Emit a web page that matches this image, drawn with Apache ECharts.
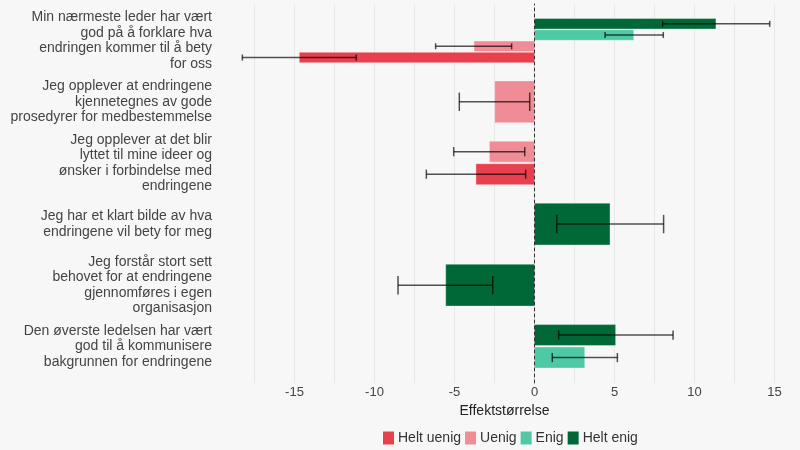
<!DOCTYPE html>
<html>
<head>
<meta charset="utf-8">
<script src="https://cdn.jsdelivr.net/npm/echarts@6/dist/echarts.min.js"></script>
<style>
  html, body { margin: 0; padding: 0; background: #f7f7f7; }
  #chart { width: 800px; height: 450px; }
</style>
</head>
<body>
<div id="chart"></div>
<script>
// statements, top to bottom
const categories = [
  'Min nærmeste leder har vært\ngod på å forklare hva\nendringen kommer til å bety\nfor oss',
  'Jeg opplever at endringene\nkjennetegnes av gode\nprosedyrer for medbestemmelse',
  'Jeg opplever at det blir\nlyttet til mine ideer og\nønsker i forbindelse med\nendringene',
  'Jeg har et klart bilde av hva\nendringene vil bety for meg',
  'Jeg forstår stort sett\nbehovet for at endringene\ngjennomføres i egen\norganisasjon',
  'Den øverste ledelsen har vært\ngod til å kommunisere\nbakgrunnen for endringene'
];

const seriesNames = ['Helt uenig', 'Uenig', 'Enig', 'Helt enig'];
const seriesColors = ['#E8404F', '#F08C96', '#4EC8A5', '#006837'];

// effect sizes + error bar ends (null = no bar)
const heltUenig   = [-14.70, null, -3.66, null, null, null];
const heltUenigLo = [-18.26, null, -6.76, null, null, null];
const heltUenigHi = [-11.14, null, -0.55, null, null, null];

const uenig   = [-3.78, -2.49, -2.82, null, null, null];
const uenigLo = [-6.18, -4.70, -5.05, null, null, null];
const uenigHi = [-1.43, -0.30, -0.61, null, null, null];

const enig   = [6.20, null, null, null, null, 3.14];
const enigLo = [4.41, null, null, null, null, 1.11];
const enigHi = [8.05, null, null, null, null, 5.18];

const heltEnig   = [11.34, null, null, 4.72, -5.55, 5.07];
const heltEnigLo = [8.01, null, null, 1.39, -8.53, 1.51];
const heltEnigHi = [14.70, null, null, 8.07, -2.61, 8.66];

const xTicks = [-15, -10, -5, 0, 5, 10, 15];

const values = [heltUenig, uenig, enig, heltEnig];
const lows = [heltUenigLo, uenigLo, enigLo, heltEnigLo];
const highs = [heltUenigHi, uenigHi, enigHi, heltEnigHi];

// which series have a bar in each category, top-to-bottom (Helt enig first)
const slots = categories.map((c, i) => {
  const list = [];
  for (let s = values.length - 1; s >= 0; s--) {
    if (values[s][i] != null) list.push(s);
  }
  return list;
});

const renderBar = (params, api) => {
  const s = params.seriesIndex;
  const cat = api.value(1);
  const v = api.value(0);
  const lo = api.value(2);
  const hi = api.value(3);
  const band = api.size([0, 1])[1];
  const list = slots[cat];
  const k = list.length;
  const j = list.indexOf(s);
  const groupW = band * 0.736;
  const slot = groupW / k;
  const h = slot * 0.93;
  const c = api.coord([0, cat]);
  const y0 = c[1] - groupW / 2 + slot * j + (slot - h) / 2;
  const yc = y0 + h / 2;
  const x0 = c[0];
  const x1 = api.coord([v, cat])[0];
  const xl = api.coord([lo, cat])[0];
  const xh = api.coord([hi, cat])[0];
  const cap = Math.max(3, h * 0.22);
  const err = { stroke: 'rgba(0,0,0,0.68)', lineWidth: 1.5 };
  return {
    type: 'group',
    children: [
      {
        type: 'rect',
        shape: { x: Math.min(x0, x1), y: y0, width: Math.abs(x1 - x0), height: h },
        style: { fill: seriesColors[s], stroke: 'rgba(255,255,255,0.35)', lineWidth: 1 }
      },
      { type: 'line', shape: { x1: xl, y1: yc, x2: xh, y2: yc }, style: err },
      { type: 'line', shape: { x1: xl, y1: yc - cap, x2: xl, y2: yc + cap }, style: err },
      { type: 'line', shape: { x1: xh, y1: yc - cap, x2: xh, y2: yc + cap }, style: err }
    ]
  };
};

const chart = echarts.init(document.getElementById('chart'));

const xMin = -20, xMax = 16.25;

chart.setOption({
  backgroundColor: '#f7f7f7',
  animation: false,
  textStyle: { fontFamily: 'Liberation Sans, Arial, sans-serif' },
  grid: [
    { left: 214.5, right: 5.5, top: 4, height: 379 },
    { left: 214.5, right: 5.5, top: 10.1, height: 366.8 }
  ],
  legend: {
    left: 378,
    top: 426,
    itemWidth: 11,
    itemHeight: 13,
    itemGap: 4,
    icon: 'rect',
    textStyle: { fontSize: 14, color: '#333', padding: [0, 0, 0, -1] },
    data: seriesNames
  },
  xAxis: [
    {
      type: 'value',
      gridIndex: 0,
      min: xMin,
      max: xMax,
      interval: 2.5,
      name: 'Effektstørrelse',
      nameLocation: 'middle',
      nameGap: 20,
      nameTextStyle: { fontSize: 14, color: '#222' },
      axisLine: { show: false },
      axisTick: { show: false },
      axisLabel: {
        fontSize: 13,
        color: '#444',
        margin: 3,
        formatter: (v) => (xTicks.indexOf(v) >= 0 ? String(v) : '')
      },
      splitLine: {
        show: true,
        showMinLine: false,
        showMaxLine: false,
        lineStyle: { color: '#e8e8e8', width: 1 }
      }
    },
    {
      type: 'value',
      gridIndex: 1,
      min: xMin,
      max: xMax,
      show: false
    }
  ],
  yAxis: [
    {
      type: 'value',
      gridIndex: 0,
      min: 0,
      max: 1,
      z: 5,
      axisLine: { show: true, onZero: true, lineStyle: { color: '#333', width: 1, type: [3, 3] } },
      axisTick: { show: false },
      axisLabel: { show: false },
      splitLine: { show: false }
    },
    {
      type: 'category',
      gridIndex: 1,
      inverse: true,
      data: categories,
      axisLine: { show: false },
      axisTick: { show: false },
      axisLabel: { fontSize: 14, color: '#444', lineHeight: 15.5, margin: 2.5 },
      splitLine: { show: false }
    }
  ],
  series: seriesNames.map((name, s) => ({
    name: name,
    type: 'custom',
    xAxisIndex: 1,
    yAxisIndex: 1,
    itemStyle: { color: seriesColors[s] },
    encode: { x: [0, 2, 3], y: 1 },
    renderItem: renderBar,
    data: values[s]
      .map((v, i) => (v == null ? null : [v, i, lows[s][i], highs[s][i]]))
      .filter((d) => d != null)
  }))
});
</script>
</body>
</html>
